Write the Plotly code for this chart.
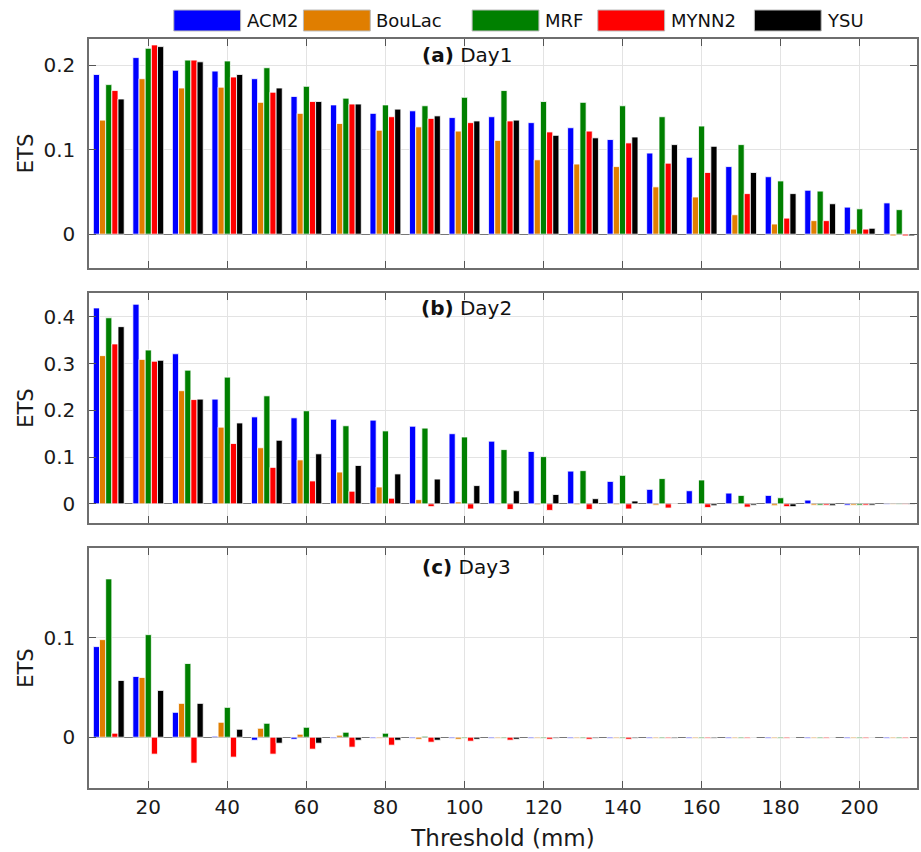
import plotly.graph_objects as go

thresholds = [10, 20, 30, 40, 50, 60, 70, 80, 90, 100, 110, 120, 130, 140, 150, 160, 170, 180, 190, 200, 210]
schemes = ["ACM2", "BouLac", "MRF", "MYNN2", "YSU"]
colors = ["#0000FF", "#E07E00", "#008000", "#FF0000", "#000000"]
x_ticks = [20, 40, 60, 80, 100, 120, 140, 160, 180, 200]

# Day1
acm2_d1 = [0.189, 0.209, 0.194, 0.193, 0.184, 0.163, 0.153, 0.143, 0.146, 0.138, 0.139, 0.132, 0.126, 0.112, 0.096, 0.091, 0.080, 0.068, 0.052, 0.032, 0.037]
boulac_d1 = [0.135, 0.184, 0.173, 0.174, 0.156, 0.143, 0.131, 0.123, 0.127, 0.122, 0.111, 0.088, 0.083, 0.080, 0.056, 0.044, 0.023, 0.012, 0.016, 0.006, -0.002]
mrf_d1 = [0.177, 0.220, 0.206, 0.205, 0.197, 0.175, 0.161, 0.153, 0.152, 0.162, 0.170, 0.157, 0.156, 0.152, 0.139, 0.128, 0.106, 0.063, 0.051, 0.030, 0.029]
mynn2_d1 = [0.170, 0.224, 0.206, 0.186, 0.168, 0.157, 0.154, 0.139, 0.137, 0.132, 0.134, 0.121, 0.122, 0.108, 0.084, 0.073, 0.048, 0.019, 0.016, 0.006, -0.002]
ysu_d1 = [0.160, 0.222, 0.204, 0.189, 0.173, 0.157, 0.154, 0.148, 0.140, 0.134, 0.135, 0.117, 0.114, 0.115, 0.106, 0.104, 0.073, 0.048, 0.036, 0.007, -0.002]

# Day2
acm2_d2 = [0.419, 0.427, 0.321, 0.224, 0.186, 0.184, 0.181, 0.179, 0.166, 0.150, 0.134, 0.112, 0.070, 0.048, 0.031, 0.028, 0.023, 0.018, 0.008, -0.003, -0.001]
boulac_d2 = [0.317, 0.309, 0.242, 0.164, 0.120, 0.094, 0.068, 0.036, 0.009, 0.004, -0.001, -0.002, -0.002, -0.002, -0.003, 0.001, -0.001, -0.004, -0.003, -0.003, -0.001]
mrf_d2 = [0.398, 0.329, 0.286, 0.271, 0.231, 0.199, 0.167, 0.156, 0.162, 0.143, 0.116, 0.101, 0.071, 0.061, 0.054, 0.051, 0.018, 0.013, -0.003, -0.003, -0.001]
mynn2_d2 = [0.342, 0.305, 0.223, 0.129, 0.078, 0.049, 0.027, 0.012, -0.006, -0.011, -0.012, -0.014, -0.012, -0.011, -0.009, -0.008, -0.007, -0.006, -0.003, -0.003, -0.001]
ysu_d2 = [0.379, 0.307, 0.224, 0.173, 0.136, 0.107, 0.082, 0.064, 0.053, 0.039, 0.028, 0.020, 0.011, 0.006, 0.001, -0.004, -0.003, -0.006, -0.004, -0.003, -0.001]

# Day3
acm2_d3 = [0.091, 0.061, 0.025, 0.001, -0.003, -0.002, -0.001, -0.001, -0.001, -0.001, -0.001, -0.001, -0.001, -0.001, -0.001, -0.001, -0.001, -0.001, -0.001, -0.001, -0.001]
boulac_d3 = [0.098, 0.060, 0.034, 0.015, 0.009, 0.003, 0.002, -0.001, -0.002, -0.002, -0.001, -0.001, -0.001, -0.001, -0.001, -0.001, -0.001, -0.001, -0.001, -0.001, -0.001]
mrf_d3 = [0.159, 0.103, 0.074, 0.030, 0.014, 0.010, 0.005, 0.004, 0.001, -0.001, -0.001, -0.001, -0.001, -0.001, -0.001, -0.001, -0.001, -0.001, -0.001, -0.001, -0.001]
mynn2_d3 = [0.004, -0.017, -0.026, -0.020, -0.017, -0.012, -0.010, -0.008, -0.005, -0.004, -0.003, -0.002, -0.002, -0.002, -0.001, -0.001, -0.001, -0.001, -0.001, -0.001, -0.001]
ysu_d3 = [0.057, 0.047, 0.034, 0.008, -0.006, -0.006, -0.003, -0.003, -0.003, -0.002, -0.002, -0.001, -0.001, -0.001, -0.001, -0.001, 0.0, 0.0, 0.0, 0.0, 0.0]

panels = [
    ("(a)", "Day1", [acm2_d1, boulac_d1, mrf_d1, mynn2_d1, ysu_d1]),
    ("(b)", "Day2", [acm2_d2, boulac_d2, mrf_d2, mynn2_d2, ysu_d2]),
    ("(c)", "Day3", [acm2_d3, boulac_d3, mrf_d3, mynn2_d3, ysu_d3]),
]
y_ranges = [[-0.04, 0.231], [-0.041, 0.451], [-0.051, 0.19]]
y_tickvals = [[0, 0.1, 0.2], [0, 0.1, 0.2, 0.3, 0.4], [0, 0.1]]
y_ticktext = [["0", "0.1", "0.2"], ["0", "0.1", "0.2", "0.3", "0.4"], ["0", "0.1"]]
domains = [[0.6943, 1.0], [0.3538, 0.6609], [0.0, 0.3204]]
title_y = [0.930, 0.935, 0.921]

FONT = "DejaVu Sans, Arial, sans-serif"
TXT = "#1a1a1a"
fig = go.Figure()

for i, (tag, day, series) in enumerate(panels):
    xa = "x" if i == 0 else f"x{i+1}"
    ya = "y" if i == 0 else f"y{i+1}"
    for name, vals, col in zip(schemes, series, colors):
        fig.add_trace(go.Bar(
            x=thresholds, y=vals, name=name, xaxis=xa, yaxis=ya,
            marker=dict(color=col, line=dict(color="white", width=0.8)),
            showlegend=False,
        ))
    sfx = "" if i == 0 else str(i + 1)
    fig.layout["xaxis" + sfx] = dict(
        domain=[0, 1], anchor=ya, range=[5, 214.5],
        tickvals=x_ticks, showticklabels=(i == 2),
        ticks="inside", ticklen=7, tickcolor="#555555",
        showline=True, linecolor="#6e6e6e", linewidth=1.5, mirror="ticks",
        showgrid=True, gridcolor="#E3E3E3", gridwidth=1, zeroline=False,
        tickfont=dict(family=FONT, size=20, color=TXT),
        ticklabelstandoff=0,
        title=dict(text="Threshold (mm)" if i == 2 else "",
                   font=dict(family=FONT, size=23, color=TXT), standoff=12),
        matches=None if i == 0 else "x",
    )
    fig.layout["yaxis" + sfx] = dict(
        domain=domains[i], anchor=xa, range=y_ranges[i],
        tickvals=y_tickvals[i], ticktext=y_ticktext[i],
        ticks="inside", ticklen=7, tickcolor="#555555",
        showline=True, linecolor="#6e6e6e", linewidth=1.5, mirror="ticks",
        showgrid=True, gridcolor="#E3E3E3", gridwidth=1,
        zeroline=True, zerolinecolor="#777777", zerolinewidth=1.2,
        tickfont=dict(family=FONT, size=20, color=TXT),
        ticklabelstandoff=8,
        title=dict(text="ETS", font=dict(family=FONT, size=21, color=TXT), standoff=4),
    )
    fig.add_annotation(
        xref=xa + " domain", yref=ya + " domain", x=0.4565, y=title_y[i],
        xanchor="center", yanchor="middle", showarrow=False,
        text=f"<b>{tag}</b> {day}",
        font=dict(family=FONT, size=20, color="#111111"),
    )

# Custom legend across the top
leg_x0 = [0.1024, 0.2590, 0.4627, 0.6145, 0.8036]
sw_w = 0.0807
for name, col, lx in zip(schemes, colors, leg_x0):
    fig.add_shape(type="rect", xref="paper", yref="paper",
                  x0=lx, x1=lx + sw_w, y0=1.0107, y1=1.0387,
                  fillcolor=col, line=dict(color="#BBBBBB", width=1))
    fig.add_annotation(xref="paper", yref="paper", x=lx + sw_w + 0.005, y=1.0247,
                       xanchor="left", yanchor="middle", showarrow=False, text=name,
                       font=dict(family=FONT, size=18, color="#111111"))

fig.update_layout(
    width=921, height=852,
    margin=dict(l=89, r=2, t=39, b=64),
    barmode="group", bargap=0.22, bargroupgap=0.0,
    plot_bgcolor="white", paper_bgcolor="white",
    showlegend=False,
    font=dict(family=FONT),
)

fig.write_html("out.html")
